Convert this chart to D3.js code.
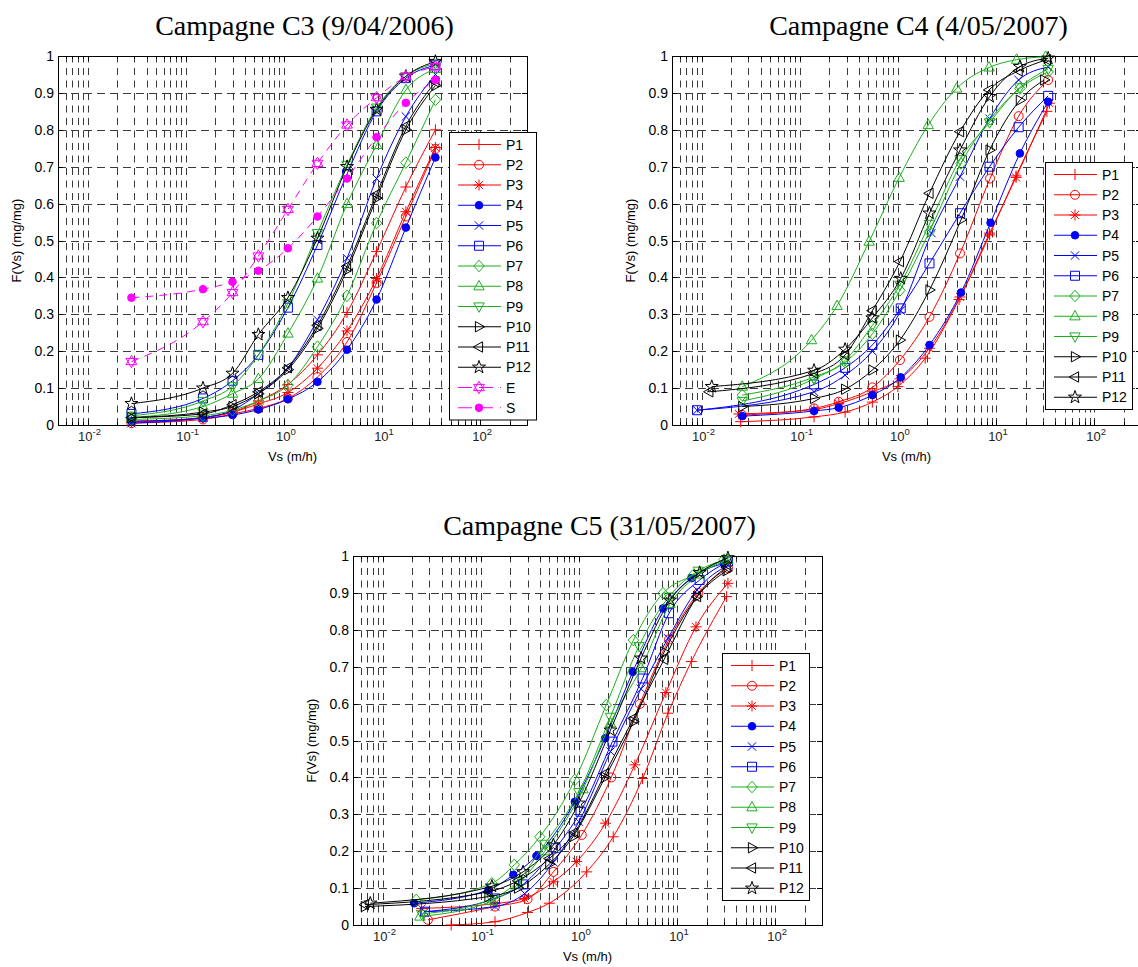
<!DOCTYPE html>
<html>
<head>
<meta charset="utf-8">
<script src="https://cdn.jsdelivr.net/npm/d3@7"></script>
<style>
  body { margin: 0; background: #fff; }
  svg { display: block; }
</style>
</head>
<body>
<svg id="fig" width="1138" height="967"></svg>
<script>
// ---------------- data ----------------
const seriesNames = ["P1", "P2", "P3", "P4", "P5", "P6", "P7", "P8", "P9", "P10", "P11", "P12"];
const titles = ["Campagne C3 (9/04/2006)", "Campagne C4 (4/05/2007)", "Campagne C5 (31/05/2007)"];
const yTicks = [0, 0.1, 0.2, 0.3, 0.4, 0.5, 0.6, 0.7, 0.8, 0.9, 1];
const yTickLabels = ["0", "0.1", "0.2", "0.3", "0.4", "0.5", "0.6", "0.7", "0.8", "0.9", "1"];
const xTickValues = [0.01, 0.1, 1, 10, 100];
const xTickExponents = ["-2", "-1", "0", "1", "2"];
const xDomain = [0.005, 300];

// Campagne C3: settling velocity classes shared by all stations
const c3Vs  = [0.028, 0.15, 0.3, 0.55, 1.1, 2.2, 4.4, 8.8, 17.5, 35];
const c3P1  = [0.010, 0.020, 0.035, 0.065, 0.110, 0.190, 0.305, 0.470, 0.645, 0.800];
const c3P2  = [0.005, 0.015, 0.030, 0.045, 0.072, 0.130, 0.225, 0.385, 0.565, 0.748];
const c3P3  = [0.008, 0.020, 0.035, 0.057, 0.088, 0.154, 0.255, 0.397, 0.578, 0.752];
const c3P4  = [0.010, 0.018, 0.027, 0.042, 0.070, 0.117, 0.204, 0.340, 0.535, 0.725];
const c3P5  = [0.005, 0.020, 0.040, 0.085, 0.155, 0.285, 0.452, 0.668, 0.836, 0.950];
const c3P6  = [0.030, 0.072, 0.120, 0.190, 0.318, 0.488, 0.680, 0.850, 0.940, 0.975];
const c3P7  = [0.015, 0.025, 0.040, 0.065, 0.108, 0.212, 0.350, 0.547, 0.711, 0.881];
const c3P8  = [0.020, 0.050, 0.085, 0.125, 0.248, 0.397, 0.599, 0.759, 0.908, 0.965];
const c3P9  = [0.025, 0.065, 0.105, 0.190, 0.330, 0.520, 0.705, 0.860, 0.945, 0.980];
const c3P10 = [0.020, 0.035, 0.050, 0.085, 0.150, 0.262, 0.420, 0.615, 0.800, 0.920];
const c3P11 = [0.020, 0.030, 0.055, 0.090, 0.155, 0.270, 0.430, 0.625, 0.810, 0.930];
const c3P12 = [0.058, 0.100, 0.140, 0.245, 0.345, 0.506, 0.700, 0.855, 0.945, 0.985];
const c3E   = [0.172, 0.280, 0.359, 0.458, 0.584, 0.709, 0.813, 0.887, 0.944, 0.971];
const c3S   = [0.345, 0.368, 0.388, 0.418, 0.479, 0.565, 0.668, 0.780, 0.873, 0.935];

// Campagne C4: [Vs (m/h), F(Vs)] pairs per station
const c4P1  = [[0.025,0.009],[0.14,0.022],[0.29,0.035],[0.55,0.062],[1.0,0.104],[1.9,0.181],[4.2,0.34],[8.6,0.515],[16,0.675],[33,0.85]];
const c4P2  = [[0.026,0.027],[0.14,0.045],[0.25,0.063],[0.55,0.102],[1.05,0.176],[2.1,0.293],[4.3,0.465],[8.7,0.668],[17,0.837],[34,0.935]];
const c4P3  = [[0.024,0.03],[0.14,0.042],[0.25,0.058],[0.55,0.09],[1.05,0.125],[2.1,0.208],[4.3,0.347],[8.6,0.52],[16,0.671],[35,0.872]];
const c4P4  = [[0.026,0.024],[0.14,0.038],[0.25,0.047],[0.55,0.081],[1.07,0.129],[2.1,0.217],[4.4,0.359],[8.8,0.548],[17.5,0.736],[34,0.876]];
const c4P5  = [[0.009,0.04],[0.14,0.09],[0.29,0.135],[0.55,0.2],[1.07,0.31],[2.2,0.52],[4.3,0.673],[8.6,0.83],[17,0.935],[34,0.97]];
const c4P6  = [[0.009,0.04],[0.14,0.11],[0.29,0.155],[0.55,0.217],[1.07,0.316],[2.1,0.438],[4.3,0.574],[8.6,0.70],[17,0.807],[34,0.892]];
const c4P7  = [[0.026,0.081],[0.14,0.13],[0.29,0.17],[0.55,0.247],[1.05,0.365],[2.1,0.524],[4.4,0.709],[8.7,0.828],[17.5,0.912],[34,0.957]];
const c4P8  = [[0.026,0.104],[0.132,0.23],[0.24,0.323],[0.51,0.497],[1.03,0.67],[2.04,0.813],[3.97,0.912],[8.5,0.969],[16.2,0.99],[32,0.998]];
const c4P9  = [[0.026,0.065],[0.14,0.125],[0.29,0.175],[0.55,0.27],[1.05,0.38],[2.1,0.545],[4.3,0.72],[8.6,0.82],[17.5,0.915],[34,0.965]];
const c4P10 = [[0.026,0.05],[0.14,0.072],[0.29,0.097],[0.55,0.149],[1.05,0.23],[2.1,0.366],[4.4,0.556],[8.6,0.745],[17.5,0.88],[31,0.935]];
const c4P11 = [[0.012,0.09],[0.14,0.14],[0.29,0.19],[0.55,0.31],[1.05,0.443],[2.1,0.628],[4.3,0.795],[8.5,0.908],[17,0.96],[33,0.99]];
const c4P12 = [[0.0127,0.104],[0.14,0.148],[0.29,0.205],[0.55,0.29],[1.07,0.397],[2.1,0.574],[4.3,0.745],[8.6,0.89],[17.5,0.971],[34,0.994]];

// Campagne C5: [Vs (m/h), F(Vs)] pairs per station
const c5P1  = [[0.05,0.0],[0.14,0.009],[0.3,0.034],[0.5,0.059],[1.2,0.144],[2.24,0.239],[4.46,0.397],[8.1,0.574],[14,0.714],[32,0.89]];
const c5P2  = [[0.029,0.014],[0.14,0.05],[0.3,0.07],[0.55,0.144],[1.07,0.244],[2.14,0.40],[4.18,0.599],[8.3,0.774],[16.5,0.9],[33,0.967]];
const c5P3  = [[0.025,0.045],[0.14,0.058],[0.28,0.072],[0.55,0.117],[0.95,0.172],[1.87,0.276],[3.72,0.434],[7.7,0.63],[15.6,0.808],[33,0.926]];
const c5P4  = [[0.021,0.059],[0.12,0.095],[0.215,0.136],[0.37,0.187],[0.91,0.334],[1.85,0.506],[3.54,0.686],[7.2,0.858],[14,0.94],[30,0.98]];
const c5P5  = [[0.027,0.036],[0.14,0.05],[0.28,0.085],[0.55,0.17],[1.0,0.28],[2.1,0.47],[4.3,0.64],[8.1,0.777],[16,0.908],[33,0.975]];
const c5P6  = [[0.027,0.036],[0.14,0.072],[0.27,0.11],[0.58,0.208],[1.04,0.307],[2.2,0.497],[4.46,0.668],[8.3,0.845],[17,0.935],[33,0.985]];
const c5P7  = [[0.022,0.068],[0.13,0.113],[0.22,0.163],[0.4,0.239],[0.91,0.393],[1.9,0.596],[3.6,0.772],[7.2,0.899],[14.6,0.948],[30,0.99]];
const c5P8  = [[0.024,0.023],[0.13,0.065],[0.24,0.11],[0.45,0.2],[1.1,0.368],[2.1,0.547],[4.3,0.696],[8.5,0.87],[17,0.95],[33,0.99]];
const c5P9  = [[0.025,0.03],[0.13,0.07],[0.24,0.12],[0.45,0.22],[1.0,0.36],[2.1,0.564],[4.1,0.756],[8.3,0.89],[16.5,0.96],[32,0.99]];
const c5P10 = [[0.0066,0.05],[0.12,0.077],[0.24,0.1],[0.5,0.165],[0.87,0.239],[1.85,0.40],[3.6,0.551],[7.4,0.74],[16,0.89],[32,0.96]];
const c5P11 = [[0.0066,0.055],[0.12,0.09],[0.24,0.12],[0.5,0.18],[0.9,0.25],[1.85,0.41],[3.6,0.56],[7.4,0.72],[16,0.89],[32,0.97]];
const c5P12 = [[0.0075,0.059],[0.13,0.105],[0.27,0.144],[0.55,0.217],[1.0,0.33],[2.1,0.528],[4.3,0.723],[8.5,0.88],[17,0.955],[33,0.995]];

// ---------------- styles ----------------
const RED = "#ff0000", BLUE = "#0000ff", GREEN = "#1cb01c", BLACK = "#000000", MAGENTA = "#ff00ff";
const seriesStyle = {
  P1:  { color: RED,     marker: "plus" },
  P2:  { color: RED,     marker: "circle" },
  P3:  { color: RED,     marker: "asterisk" },
  P4:  { color: BLUE,    marker: "dot" },
  P5:  { color: BLUE,    marker: "cross" },
  P6:  { color: BLUE,    marker: "square" },
  P7:  { color: GREEN,   marker: "diamond" },
  P8:  { color: GREEN,   marker: "triUp" },
  P9:  { color: GREEN,   marker: "triDown" },
  P10: { color: BLACK,   marker: "triRight" },
  P11: { color: BLACK,   marker: "triLeft" },
  P12: { color: BLACK,   marker: "pentagram" },
  E:   { color: MAGENTA, marker: "hexagram", dash: "8,6" },
  S:   { color: MAGENTA, marker: "dot",      dash: "8,6" }
};

function starPath(R, r, n) {
  const pts = [];
  for (let k = 0; k < 2 * n; k++) {
    const a = -Math.PI / 2 + k * Math.PI / n;
    const rad = k % 2 === 0 ? R : r;
    pts.push([rad * Math.cos(a), rad * Math.sin(a)]);
  }
  return "M" + pts.map(p => p[0].toFixed(2) + "," + p[1].toFixed(2)).join("L") + "Z";
}

function markerPath(type) {
  switch (type) {
    case "plus":      return "M-5.5,0H5.5M0,-5.5V5.5";
    case "circle":    return "M4.5,0A4.5,4.5 0 1,1 -4.5,0A4.5,4.5 0 1,1 4.5,0Z";
    case "asterisk":  return "M-5.5,0H5.5M0,-5.5V5.5M-3.9,-3.9L3.9,3.9M-3.9,3.9L3.9,-3.9";
    case "dot":       return "M3.8,0A3.8,3.8 0 1,1 -3.8,0A3.8,3.8 0 1,1 3.8,0Z";
    case "cross":     return "M-4.2,-4.2L4.2,4.2M-4.2,4.2L4.2,-4.2";
    case "square":    return "M-4.5,-4.5H4.5V4.5H-4.5Z";
    case "diamond":   return "M0,-5.8L5.2,0L0,5.8L-5.2,0Z";
    case "triUp":     return "M0,-5.8L5.2,3.6L-5.2,3.6Z";
    case "triDown":   return "M0,5.8L5.2,-3.6L-5.2,-3.6Z";
    case "triRight":  return "M5.8,0L-3.6,5.2L-3.6,-5.2Z";
    case "triLeft":   return "M-5.8,0L3.6,5.2L3.6,-5.2Z";
    case "pentagram": return starPath(6.8, 2.7, 5);
    case "hexagram":  return "M0,-6.2L5.4,3.1L-5.4,3.1Z M0,6.2L5.4,-3.1L-5.4,-3.1Z";
  }
  return "";
}

function drawMarker(g, type, color, x, y) {
  const filled = type === "dot";
  g.append("path")
    .attr("d", markerPath(type))
    .attr("transform", `translate(${x},${y})`)
    .attr("fill", filled ? color : "none")
    .attr("stroke", color)
    .attr("stroke-width", 1);
}

// ---------------- series assembly ----------------
const c3Values = [c3P1, c3P2, c3P3, c3P4, c3P5, c3P6, c3P7, c3P8, c3P9, c3P10, c3P11, c3P12];
const c3Series = seriesNames.map((n, i) => ({ name: n, pts: c3Vs.map((v, j) => [v, c3Values[i][j]]) }))
  .concat([
    { name: "E", pts: c3Vs.map((v, j) => [v, c3E[j]]) },
    { name: "S", pts: c3Vs.map((v, j) => [v, c3S[j]]) }
  ]);
const c4Values = [c4P1, c4P2, c4P3, c4P4, c4P5, c4P6, c4P7, c4P8, c4P9, c4P10, c4P11, c4P12];
const c4Series = seriesNames.map((n, i) => ({ name: n, pts: c4Values[i] }));
const c5Values = [c5P1, c5P2, c5P3, c5P4, c5P5, c5P6, c5P7, c5P8, c5P9, c5P10, c5P11, c5P12];
const c5Series = seriesNames.map((n, i) => ({ name: n, pts: c5Values[i] }));

// ---------------- layout ----------------
const PW = 469, PH = 369;
const panels = [
  { title: titles[0], left: 58,  top: 56,  legendLeft: 449,  legendTop: 132, series: c3Series },
  { title: titles[1], left: 672, top: 56,  legendLeft: 1045, legendTop: 162, series: c4Series },
  { title: titles[2], left: 353, top: 556, legendLeft: 722,  legendTop: 653, series: c5Series }
];

const svg = d3.select("#fig");
svg.append("rect").attr("width", 1138).attr("height", 967).attr("fill", "#fff");

const SANS = "'Liberation Sans', Arial, Helvetica, sans-serif";
const SERIF = "'Liberation Serif', 'Times New Roman', serif";
const GRID = "#3a3a3a";

panels.forEach(p => {
  const x = d3.scaleLog().domain(xDomain).range([p.left, p.left + PW]);
  const y = d3.scaleLinear().domain([0, 1]).range([p.top + PH, p.top]);
  const g = svg.append("g");
  const bottom = p.top + PH, right = p.left + PW;

  // log-x grid: every 1..9 multiple of each decade, dashed
  const gridVals = [];
  for (let d = -3; d <= 2; d++) {
    for (let m = 1; m <= 9; m++) {
      const v = m * Math.pow(10, d);
      if (v > xDomain[0] * 1.0001 && v < xDomain[1] * 0.9999) gridVals.push(v);
    }
  }
  g.append("g").selectAll("line").data(gridVals).join("line")
    .attr("x1", d => Math.round(x(d)) + 0.5).attr("x2", d => Math.round(x(d)) + 0.5)
    .attr("y1", bottom).attr("y2", p.top)
    .attr("stroke", GRID).attr("stroke-width", 1).attr("stroke-dasharray", "7,5.5");

  g.append("g").selectAll("line").data(yTicks.filter(v => v > 0 && v < 1)).join("line")
    .attr("x1", p.left).attr("x2", right)
    .attr("y1", d => Math.round(y(d)) + 0.5).attr("y2", d => Math.round(y(d)) + 0.5)
    .attr("stroke", GRID).attr("stroke-width", 1).attr("stroke-dasharray", "8,5");

  // ticks on all four sides, pointing inward
  const tickG = g.append("g").attr("stroke", "#000").attr("stroke-width", 1);
  yTicks.forEach(v => {
    const yy = Math.round(y(v)) + 0.5;
    tickG.append("line").attr("x1", p.left).attr("x2", p.left + 5).attr("y1", yy).attr("y2", yy);
    tickG.append("line").attr("x1", right - 5).attr("x2", right).attr("y1", yy).attr("y2", yy);
  });
  gridVals.forEach(v => {
    const xx = Math.round(x(v)) + 0.5;
    const len = xTickValues.includes(+v.toPrecision(6)) ? 5 : 3;
    tickG.append("line").attr("x1", xx).attr("x2", xx).attr("y1", bottom).attr("y2", bottom - len);
    tickG.append("line").attr("x1", xx).attr("x2", xx).attr("y1", p.top).attr("y2", p.top + len);
  });

  // frame
  g.append("rect").attr("x", p.left + 0.5).attr("y", p.top + 0.5)
    .attr("width", PW).attr("height", PH)
    .attr("fill", "none").attr("stroke", "#000").attr("stroke-width", 1);

  // y tick labels
  g.append("g").selectAll("text").data(yTicks).join("text")
    .attr("x", p.left - 4).attr("y", d => y(d)).attr("dy", "0.36em")
    .attr("text-anchor", "end").attr("font-family", SANS).attr("font-size", 14)
    .text((d, i) => yTickLabels[i]);

  // x tick labels (powers of ten)
  xTickValues.forEach((v, i) => {
    const t = g.append("text").attr("x", x(v) + 2).attr("y", bottom + 16)
      .attr("text-anchor", "middle").attr("font-family", SANS).attr("font-size", 13)
      .attr("fill", "#222");
    t.append("tspan").text("10");
    t.append("tspan").attr("dy", -6).attr("font-size", 9.5).text(xTickExponents[i]);
  });

  // axis titles
  g.append("text").attr("x", p.left + PW / 2).attr("y", bottom + 36)
    .attr("text-anchor", "middle").attr("font-family", SANS).attr("font-size", 13)
    .text("Vs (m/h)");
  g.append("text")
    .attr("transform", `translate(${p.left - 37},${p.top + PH / 2}) rotate(-90)`)
    .attr("text-anchor", "middle").attr("font-family", SANS).attr("font-size", 13)
    .text("F(Vs) (mg/mg)");

  // panel title
  g.append("text").attr("x", p.left + PW / 2 + 12).attr("y", p.top - 21)
    .attr("text-anchor", "middle").attr("font-family", SERIF).attr("font-size", 28)
    .text(p.title);

  // curves + markers
  const line = d3.line().x(d => x(d[0])).y(d => y(d[1])).curve(d3.curveMonotoneX);
  p.series.forEach(s => {
    const st = seriesStyle[s.name];
    const sg = g.append("g");
    sg.append("path").attr("d", line(s.pts))
      .attr("fill", "none").attr("stroke", st.color).attr("stroke-width", 1)
      .attr("stroke-dasharray", st.dash || null);
    s.pts.forEach(d => drawMarker(sg, st.marker, st.color, x(d[0]), y(d[1])));
  });

  // legend
  const rowH = 20.25;
  const n = p.series.length;
  const lg = g.append("g");
  lg.append("rect").attr("x", p.legendLeft + 0.5).attr("y", p.legendTop + 0.5)
    .attr("width", 87).attr("height", n * rowH + 4)
    .attr("fill", "#fff").attr("stroke", "#000").attr("stroke-width", 1);
  p.series.forEach((s, i) => {
    const st = seriesStyle[s.name];
    const cy = p.legendTop + 12.5 + i * rowH;
    lg.append("line").attr("x1", p.legendLeft + 9).attr("x2", p.legendLeft + 52)
      .attr("y1", cy).attr("y2", cy)
      .attr("stroke", st.color).attr("stroke-width", 1)
      .attr("stroke-dasharray", st.dash ? "14,7" : null);
    drawMarker(lg, st.marker, st.color, p.legendLeft + 30, cy);
    lg.append("text").attr("x", p.legendLeft + 57).attr("y", cy).attr("dy", "0.36em")
      .attr("font-family", SANS).attr("font-size", 14).text(s.name);
  });
});
</script>
</body>
</html>
